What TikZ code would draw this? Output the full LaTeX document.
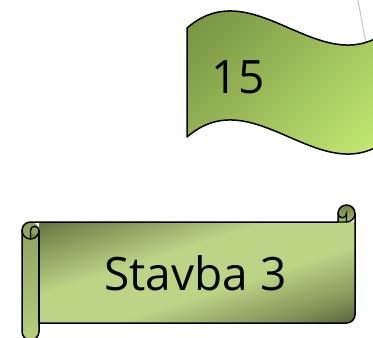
\documentclass[tikz,border=0pt]{standalone}
\usepackage{fontspec}
\setmainfont{Open Sans}
\definecolor{flagdark}{RGB}{120,150,68}
\definecolor{flaglight}{RGB}{196,232,114}
\definecolor{scrolldark}{RGB}{100,116,64}
\definecolor{scrolllight}{RGB}{188,212,134}
\definecolor{scrolldeep}{RGB}{86,100,54}
% diagonal band for the scroll body: dark corners, light middle
\pgfdeclareverticalshading{scrollband}{100bp}{%
  color(0bp)=(scrolldeep); color(14bp)=(scrolldeep!55!scrolllight);
  color(38bp)=(scrolllight); color(64bp)=(scrolllight);
  color(86bp)=(scrolldark!60!scrolllight); color(100bp)=(scrolldark)}
\begin{document}
\begin{tikzpicture}[x=1pt,y=-1pt,
  outline/.style={draw=black, line width=1.5pt, line join=round},
  curl/.style={draw=black, line width=1.4pt, line cap=round},
  bigtext/.style={font=\fontsize{46}{50}\selectfont, text=black, inner sep=0pt}]
\useasboundingbox (0,0) rectangle (373,338);
\clip (0,0) rectangle (373,338);

% thin guide line behind the flag
\coordinate (g1) at (357,-5);
\coordinate (g2) at (366.5,46);
\draw[gray!45, line width=1pt] (g1) -- (g2);

% waving flag
\path[outline, top color=flagdark, bottom color=flaglight, shading angle=45]
  (187,28) .. controls (255,-31) and (323,87) .. (391,28)
  -- (391,137) .. controls (323,196) and (255,78) .. (187,137) -- cycle;
\node[bigtext] (num) at (238,77.5) {15};

% horizontal scroll: l=22 t=205 r=355 b=340, roll diameter 17
% banner body, shaded along its diagonal
\path[path picture={
    \begin{scope}[shift={(197,272.5)}, cm={3.148,1.006,-3.148,1.006,(0,0)}]
      \node[transform shape, inner sep=0pt, outer sep=0pt] (band) {\pgfuseshading{scrollband}};
    \end{scope}}]
  (39,222) -- (355,222) -- (355,314.5) arc[start angle=0, end angle=90, radius=8.5]
  -- (39,323) -- cycle;
% left roll
\path[top color={rgb,255:red,140;green,160;blue,94}, bottom color={rgb,255:red,182;green,207;blue,126}]
  (22,230.5) arc[start angle=180, end angle=360, radius=8.5]
  -- (39,331.5) arc[start angle=0, end angle=180, radius=8.5] -- cycle;
\path[fill={rgb,255:red,112;green,130;blue,72}]
  (30.5,239) arc[start angle=90, end angle=0, radius=8.5]
  arc[start angle=0, end angle=180, radius=4.25] -- cycle;
% right roll
\path[top color={rgb,255:red,108;green,130;blue,66}, bottom color={rgb,255:red,160;green,188;blue,106}]
  (338,222) -- (338,213.5) arc[start angle=180, end angle=360, radius=8.5]
  arc[start angle=0, end angle=90, radius=8.5] -- cycle;

% outline of the scroll
\path[outline]
  (22,230.5) arc[start angle=180, end angle=270, radius=8.5]
  -- (338,222) -- (338,213.5) arc[start angle=180, end angle=360, radius=8.5]
  -- (355,314.5) arc[start angle=0, end angle=90, radius=8.5]
  -- (39,323) -- (39,331.5) arc[start angle=0, end angle=180, radius=8.5] -- cycle;
% right curl
\path[curl] (338,222) -- (346.5,222) arc[start angle=90, end angle=0, radius=8.5];
\path[curl] (346.5,222) -- (346.5,213.5) arc[start angle=0, end angle=180, radius=4.25];
% left curl
\path[curl] (30.5,239) -- (30.5,230.5) arc[start angle=180, end angle=360, radius=4.25]
  arc[start angle=0, end angle=180, radius=8.5];
\path[curl] (39,230.5) -- (39,323);

\node[bigtext, anchor=base] (title) at (195.5,290) {Stavba 3};
\end{tikzpicture}
\end{document}
